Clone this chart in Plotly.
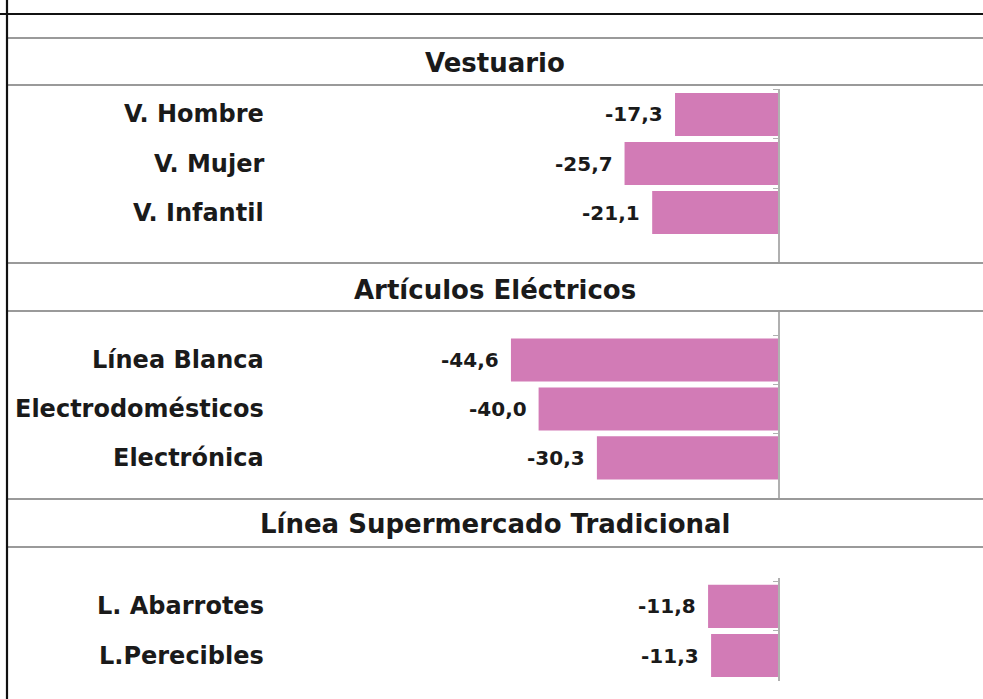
import plotly.graph_objects as go

# ---- data ----
sections = ["Vestuario", "Artículos Eléctricos", "Línea Supermercado Tradicional"]
cats_vest = ["V. Hombre", "V. Mujer", "V. Infantil"]
vals_vest = [-17.3, -25.7, -21.1]
cats_elec = ["Línea Blanca", "Electrodomésticos", "Electrónica"]
vals_elec = [-44.6, -40.0, -30.3]
cats_super = ["L. Abarrotes", "L.Perecibles"]
vals_super = [-11.8, -11.3]

W, H = 983, 699
BAR = "#D27BB6"
GRID = "#9a9a9a"
FONT = "DejaVu Sans"

def fy(px):
    return 1 - px / H

def fx(px):
    return px / W

groups = [
    (cats_vest, vals_vest, (89, 263), (3.03, -0.52)),
    (cats_elec, vals_elec, (312, 499), (2.84, -0.98)),
    (cats_super, vals_super, (578, 681), (1.52, -0.58)),
]

fig = go.Figure()
annotations = []
zero_px = 779
xrange_ = [-zero_px / 6.01, (W - zero_px) / 6.01]

for i, (cats, vals, (top, bot), yr) in enumerate(groups):
    n = "" if i == 0 else str(i + 1)
    fig.add_trace(go.Bar(
        x=vals, y=cats, orientation="h",
        marker=dict(color=BAR, line=dict(width=0)),
        width=0.88, xaxis="x" + n, yaxis="y" + n,
        showlegend=False, hoverinfo="x+y",
    ))
    fig.layout["xaxis" + n] = dict(
        domain=[0, 1], range=xrange_, anchor="y" + n,
        visible=False, fixedrange=True,
    )
    fig.layout["yaxis" + n] = dict(
        domain=[fy(bot), fy(top)], range=list(yr), type="category",
        categoryorder="array", categoryarray=cats,
        anchor="free", position=fx(zero_px),
        showline=True, linecolor="#b0b0b0", linewidth=1.5,
        ticks="outside", tickson="boundaries", ticklen=5,
        tickcolor="#b0b0b0", tickwidth=1.2,
        showticklabels=False, showgrid=False, zeroline=False,
    )
    for c, v in zip(cats, vals):
        annotations.append(dict(
            x=fx(266), xref="paper", y=c, yref="y" + n,
            text=c, showarrow=False, xanchor="right", yanchor="middle",
            font=dict(family=FONT, size=24, color="#1a1a1a", weight="bold"),
        ))
        annotations.append(dict(
            x=v, xref="x" + n, y=c, yref="y" + n,
            text=f"{v:.1f}".replace(".", ","), showarrow=False,
            xanchor="right", yanchor="middle", xshift=-10,
            font=dict(family=FONT, size=20, color="#1a1a1a", weight="bold"),
        ))

header_y = [63, 290, 524]
for s, hy in zip(sections, header_y):
    annotations.append(dict(
        x=fx(495), xref="paper", y=fy(hy), yref="paper",
        text=s, showarrow=False, xanchor="center", yanchor="middle",
        font=dict(family=FONT, size=26, color="#1a1a1a", weight="bold"),
    ))

shapes = []
for ly in [38, 85, 263, 311, 499, 547]:
    shapes.append(dict(type="line", xref="paper", yref="paper",
                       x0=fx(7), x1=1, y0=fy(ly), y1=fy(ly),
                       line=dict(color=GRID, width=1.8)))
shapes.append(dict(type="line", xref="paper", yref="paper",
                   x0=0, x1=1, y0=fy(14), y1=fy(14),
                   line=dict(color="#111111", width=2.2)))
shapes.append(dict(type="line", xref="paper", yref="paper",
                   x0=fx(7), x1=fx(7), y0=0, y1=1,
                   line=dict(color="#111111", width=2.2)))

fig.update_layout(
    width=W, height=H, margin=dict(l=0, r=0, t=0, b=0),
    paper_bgcolor="white", plot_bgcolor="white",
    annotations=annotations, shapes=shapes, bargap=0.12,
)

fig.write_html(
    "out.html",
    config={"displayModeBar": False},
    post_script="document.body.style.margin='0';document.body.style.overflow='hidden';",
)
